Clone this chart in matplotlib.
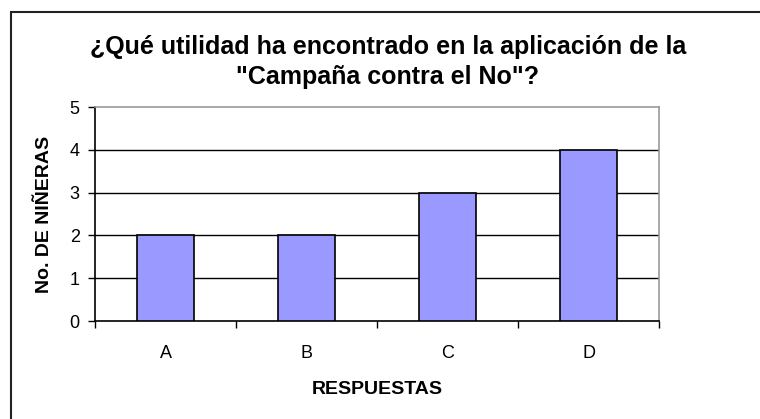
import numpy as np
import matplotlib.pyplot as plt
from matplotlib.patches import Rectangle

plt.rcParams['font.family'] = ['Liberation Sans', 'DejaVu Sans']

categories = ["A", "B", "C", "D"]
values = [2, 2, 3, 4]
yticks = [0, 1, 2, 3, 4, 5]

title = '¿Qué utilidad ha encontrado en la aplicación de la\n"Campaña contra el No"?'

fig = plt.figure(figsize=(7.6, 4.19), dpi=100)

# outer chart border (right/bottom run off the canvas)
fig.patches.append(Rectangle((11 / 760, -0.1), 1.2, 1.1 - 12 / 419,
                             transform=fig.transFigure, fill=False,
                             edgecolor="#222222", lw=1.5))

ax = fig.add_axes([95 / 760, 98 / 419, 564 / 760, 214 / 419])

x = np.arange(len(categories))
ax.bar(x, values, width=0.4, color="#9999FF", edgecolor="black", lw=1.2, zorder=3)

ax.set_xlim(-0.5, len(categories) - 0.5)
ax.set_ylim(0, 5)
ax.set_yticks(yticks)
ax.set_yticklabels([str(v) for v in yticks], fontsize=13)
ax.set_xticks(x)
ax.set_xticklabels(categories, fontsize=13)
ax.tick_params(axis="x", length=0, pad=17)
ax.set_xticks(np.arange(len(categories) + 1) - 0.5, minor=True)
ax.tick_params(axis="x", which="minor", length=5, width=1, direction="out")
ax.tick_params(axis="y", length=5, width=1, direction="out", pad=6)

for v in yticks[1:-1]:
    ax.axhline(v, color="black", lw=1, zorder=1)

ax.spines["left"].set_color("black")
ax.spines["bottom"].set_color("black")
ax.spines["top"].set_color("#999999")
ax.spines["right"].set_color("#999999")
for s in ax.spines.values():
    s.set_linewidth(1.2)

ax.set_xlabel("RESPUESTAS", fontsize=14, fontweight="bold", labelpad=14)
ax.set_ylabel("No. DE NIÑERAS", fontsize=14, fontweight="bold", labelpad=12)

fig.text(0.5 + 8 / 760, 1 - 62 / 419, title, ha="center", va="center",
         fontsize=18, fontweight="bold", linespacing=1.3)

fig.savefig("out.png", dpi=100, facecolor="white")
